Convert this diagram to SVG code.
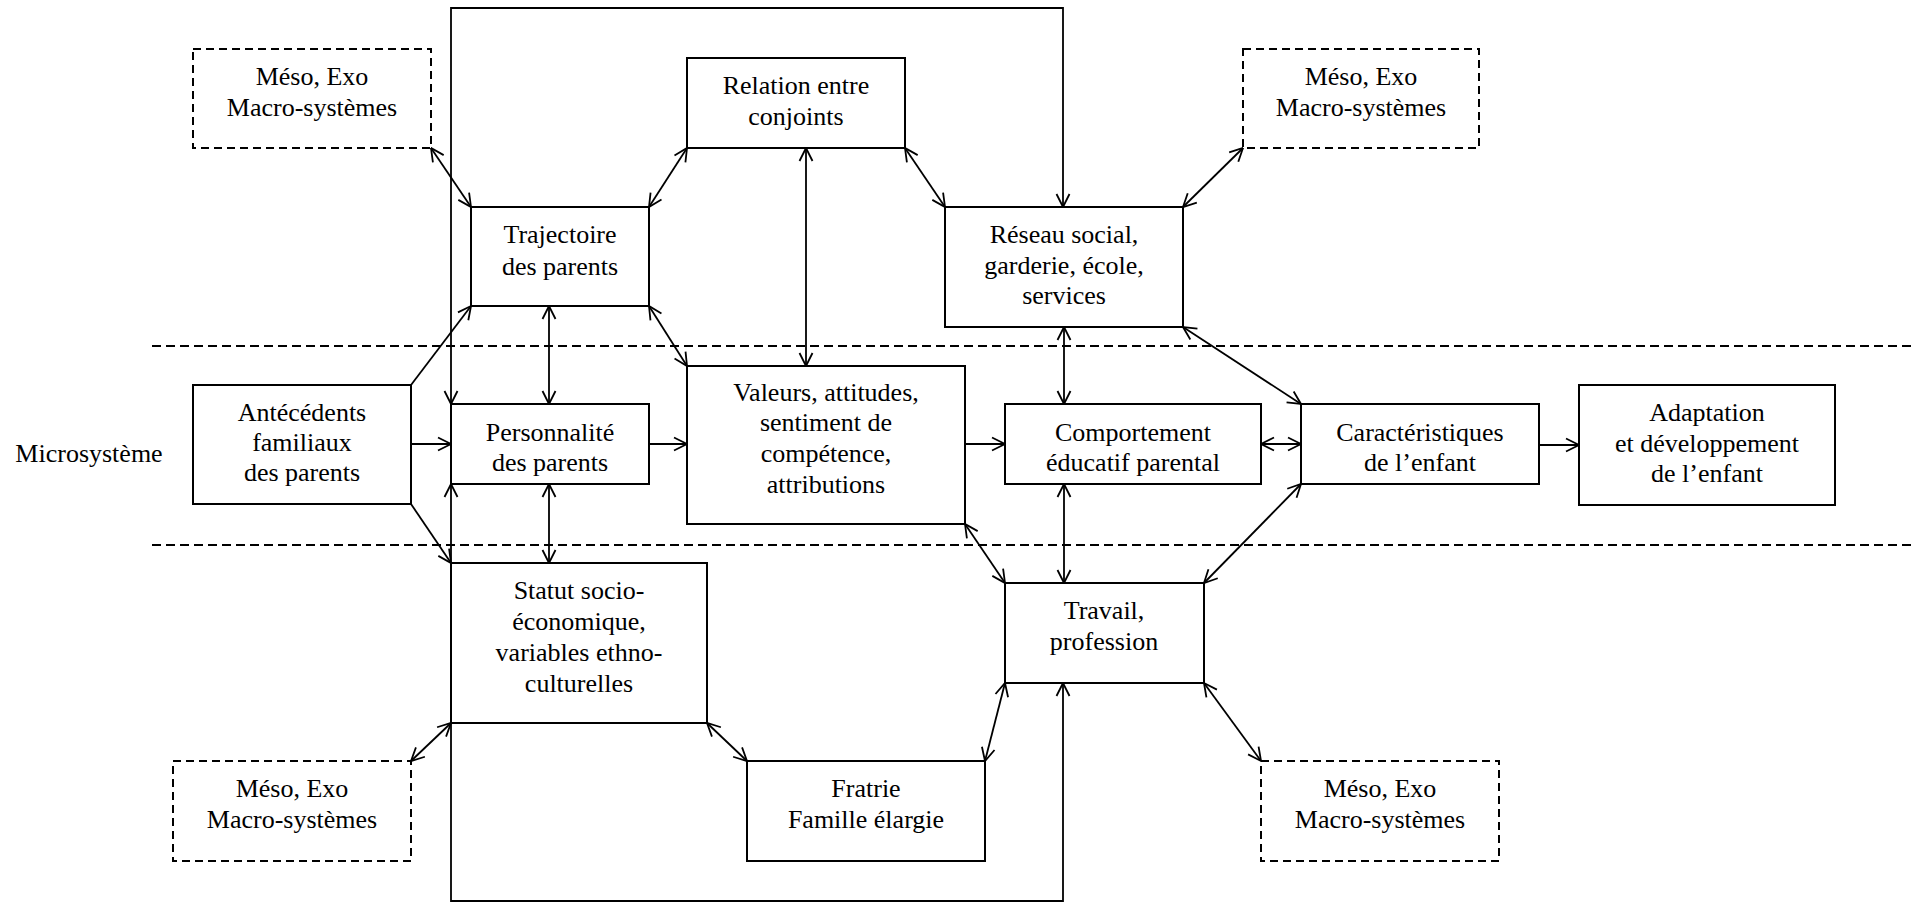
<svg xmlns="http://www.w3.org/2000/svg" width="1912" height="902" viewBox="0 0 1912 902">
<style>
  .box { fill: #fff; stroke: #000; stroke-width: 2; }
  .dbox { fill: #fff; stroke: #000; stroke-width: 2; stroke-dasharray: 8 5; }
  .sep { fill: none; stroke: #000; stroke-width: 2; stroke-dasharray: 9 5; }
  .c { fill: none; stroke: #000; stroke-width: 1.8; }
  .bi { marker-start: url(#ah); marker-end: url(#ah); }
  .one { marker-end: url(#ah); }
  text { font-family: "Liberation Serif", "Times New Roman", serif; font-size: 26px; fill: #000; text-anchor: middle; }
</style>
<defs>
  <marker id="ah" viewBox="-15 -8 17 16" markerWidth="17" markerHeight="16" refX="0" refY="0" markerUnits="userSpaceOnUse" orient="auto-start-reverse" overflow="visible">
    <path d="M-13,-6.5 L0,0 L-13,6.5" fill="none" stroke="#000" stroke-width="1.8"/>
  </marker>
</defs>
<rect width="1912" height="902" fill="#fff"/>

<g id="separators">
  <line class="sep" x1="152" y1="346" x2="1912" y2="346"/>
  <line class="sep" x1="152" y1="545" x2="1912" y2="545"/>
</g>

<g id="connectors">
  <path class="c bi" d="M451,404 V8 H1063 V207"/>
  <path class="c bi" d="M451,484 V901 H1063 V683"/>
  <line class="c bi" x1="431" y1="148" x2="471" y2="207"/>
  <line class="c bi" x1="687" y1="148" x2="649" y2="207"/>
  <line class="c one" x1="411" y1="385" x2="471" y2="306"/>
  <line class="c bi" x1="549" y1="306" x2="549" y2="404"/>
  <line class="c bi" x1="649" y1="306" x2="687" y2="366"/>
  <line class="c bi" x1="806" y1="148" x2="806" y2="366"/>
  <line class="c bi" x1="905" y1="148" x2="945" y2="207"/>
  <line class="c bi" x1="1243" y1="148" x2="1183" y2="207"/>
  <line class="c one" x1="411" y1="444" x2="451" y2="444"/>
  <line class="c one" x1="649" y1="444" x2="687" y2="444"/>
  <line class="c one" x1="965" y1="444" x2="1005" y2="444"/>
  <line class="c bi" x1="1261" y1="444" x2="1301" y2="444"/>
  <line class="c one" x1="1539" y1="445" x2="1579" y2="445"/>
  <line class="c bi" x1="1064" y1="327" x2="1064" y2="404"/>
  <line class="c bi" x1="1183" y1="327" x2="1301" y2="404"/>
  <line class="c one" x1="411" y1="504" x2="451" y2="563"/>
  <line class="c bi" x1="549" y1="484" x2="549" y2="563"/>
  <line class="c bi" x1="965" y1="524" x2="1005" y2="583"/>
  <line class="c bi" x1="1064" y1="484" x2="1064" y2="583"/>
  <line class="c bi" x1="1301" y1="484" x2="1204" y2="583"/>
  <line class="c bi" x1="411" y1="761" x2="451" y2="723"/>
  <line class="c bi" x1="707" y1="723" x2="747" y2="761"/>
  <line class="c bi" x1="1005" y1="683" x2="985" y2="761"/>
  <line class="c bi" x1="1204" y1="683" x2="1261" y2="761"/>
</g>

<g id="label-microsysteme">
  <text x="89" y="462">Microsystème</text>
</g>

<g id="meso-tl">
  <rect class="dbox" x="193" y="49" width="238" height="99"/>
  <text x="312" y="85">Méso, Exo</text>
  <text x="312" y="116">Macro-systèmes</text>
</g>
<g id="relation">
  <rect class="box" x="687" y="58" width="218" height="90"/>
  <text x="796" y="94">Relation entre</text>
  <text x="796" y="125">conjoints</text>
</g>
<g id="meso-tr">
  <rect class="dbox" x="1243" y="49" width="236" height="99"/>
  <text x="1361" y="85">Méso, Exo</text>
  <text x="1361" y="116">Macro-systèmes</text>
</g>
<g id="trajectoire">
  <rect class="box" x="471" y="207" width="178" height="99"/>
  <text x="560" y="243">Trajectoire</text>
  <text x="560" y="275">des parents</text>
</g>
<g id="reseau">
  <rect class="box" x="945" y="207" width="238" height="120"/>
  <text x="1064" y="243">Réseau social,</text>
  <text x="1064" y="274">garderie, école,</text>
  <text x="1064" y="304">services</text>
</g>
<g id="antecedents">
  <rect class="box" x="193" y="385" width="218" height="119"/>
  <text x="302" y="421">Antécédents</text>
  <text x="302" y="451">familiaux</text>
  <text x="302" y="481">des parents</text>
</g>
<g id="personnalite">
  <rect class="box" x="451" y="404" width="198" height="80"/>
  <text x="550" y="441">Personnalité</text>
  <text x="550" y="471">des parents</text>
</g>
<g id="valeurs">
  <rect class="box" x="687" y="366" width="278" height="158"/>
  <text x="826" y="401">Valeurs, attitudes,</text>
  <text x="826" y="431">sentiment de</text>
  <text x="826" y="462">compétence,</text>
  <text x="826" y="493">attributions</text>
</g>
<g id="comportement">
  <rect class="box" x="1005" y="404" width="256" height="80"/>
  <text x="1133" y="441">Comportement</text>
  <text x="1133" y="471">éducatif parental</text>
</g>
<g id="caracteristiques">
  <rect class="box" x="1301" y="404" width="238" height="80"/>
  <text x="1420" y="441">Caractéristiques</text>
  <text x="1420" y="471">de l’enfant</text>
</g>
<g id="adaptation">
  <rect class="box" x="1579" y="385" width="256" height="120"/>
  <text x="1707" y="421">Adaptation</text>
  <text x="1707" y="452">et développement</text>
  <text x="1707" y="482">de l’enfant</text>
</g>
<g id="statut">
  <rect class="box" x="451" y="563" width="256" height="160"/>
  <text x="579" y="599">Statut socio-</text>
  <text x="579" y="630">économique,</text>
  <text x="579" y="661">variables ethno-</text>
  <text x="579" y="692">culturelles</text>
</g>
<g id="travail">
  <rect class="box" x="1005" y="583" width="199" height="100"/>
  <text x="1104" y="619">Travail,</text>
  <text x="1104" y="650">profession</text>
</g>
<g id="meso-bl">
  <rect class="dbox" x="173" y="761" width="238" height="100"/>
  <text x="292" y="797">Méso, Exo</text>
  <text x="292" y="828">Macro-systèmes</text>
</g>
<g id="fratrie">
  <rect class="box" x="747" y="761" width="238" height="100"/>
  <text x="866" y="797">Fratrie</text>
  <text x="866" y="828">Famille élargie</text>
</g>
<g id="meso-br">
  <rect class="dbox" x="1261" y="761" width="238" height="100"/>
  <text x="1380" y="797">Méso, Exo</text>
  <text x="1380" y="828">Macro-systèmes</text>
</g>
</svg>
